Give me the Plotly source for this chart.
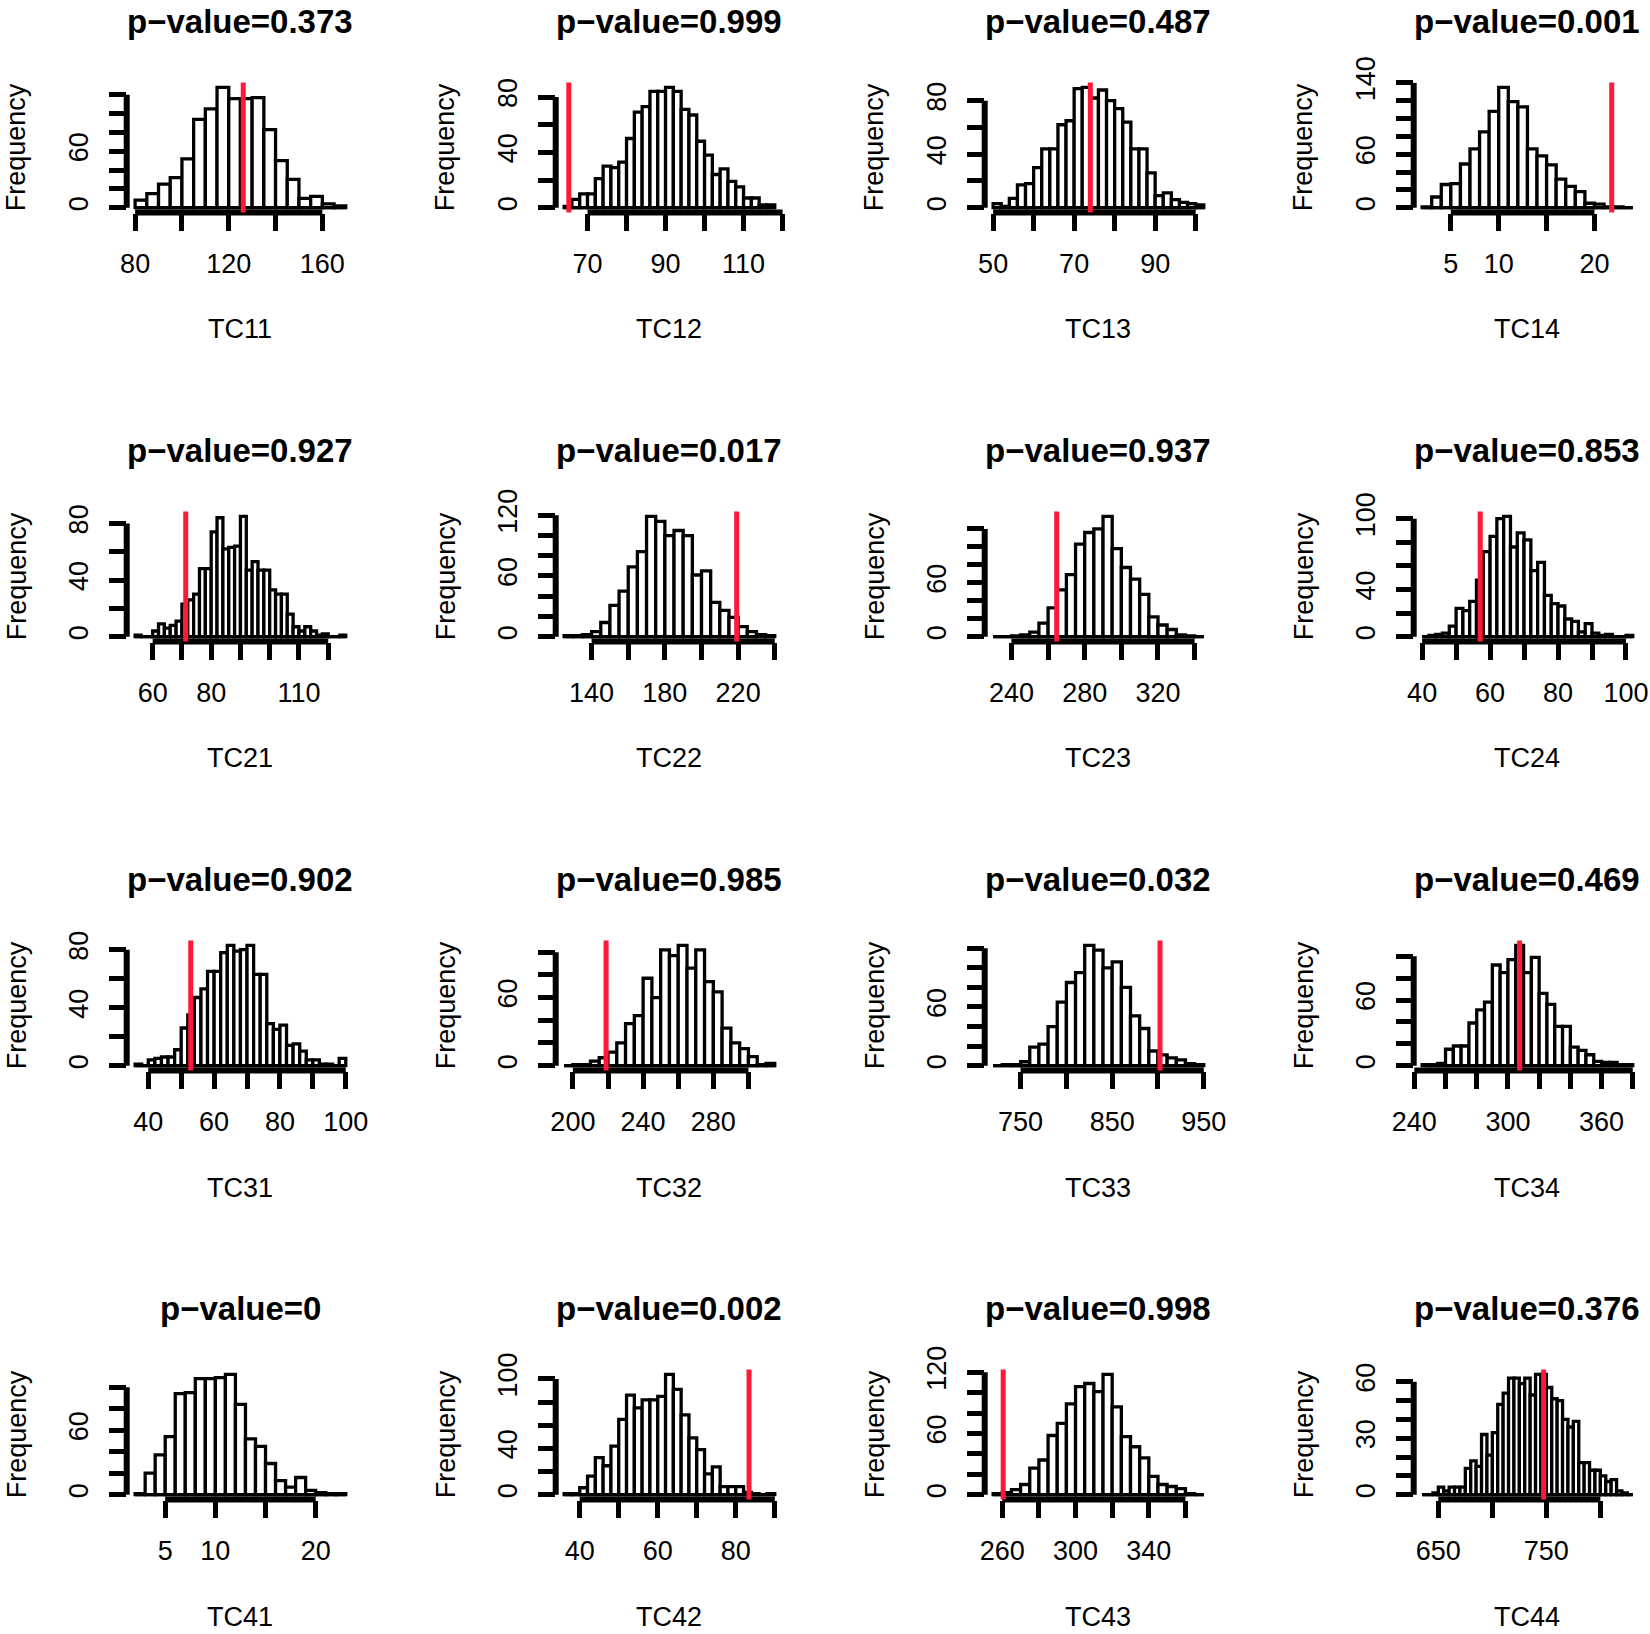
import plotly.graph_objects as go

# ---------------- data ----------------
names = ["TC11", "TC12", "TC13", "TC14",
         "TC21", "TC22", "TC23", "TC24",
         "TC31", "TC32", "TC33", "TC34",
         "TC41", "TC42", "TC43", "TC44"]
p_values = ["0.373", "0.999", "0.487", "0.001",
            "0.927", "0.017", "0.937", "0.853",
            "0.902", "0.985", "0.032", "0.469",
            "0", "0.002", "0.998", "0.376"]
observed = [126.2, 65.2, 74.0, 21.8,
            71.3, 219.2, 264.7, 57.1,
            52.9, 218.9, 902.2, 307.5,
            None, 83.4, 260.5, 747.5]
break_start = [80, 64, 50, 2, 54, 125, 230, 40, 36, 195, 720, 245, 2, 36, 255, 635]
bin_width = [5, 2, 2, 1, 2, 5, 5, 2, 2, 5, 10, 5, 1, 2, 5, 5]

counts_tc11 = [8, 15, 25, 32, 52, 94, 105, 128, 116, 116, 117, 83, 50, 30, 10, 12, 4, 2]
counts_tc12 = [1, 6, 10, 10, 21, 30, 29, 33, 50, 69, 73, 84, 84, 87, 84, 71, 67, 48, 38, 24, 28, 19, 15, 7, 7, 2, 2]
counts_tc13 = [3, 1, 7, 17, 18, 30, 44, 44, 62, 65, 89, 90, 82, 88, 80, 74, 64, 44, 44, 26, 9, 11, 6, 4, 3, 2]
counts_tc14 = [1, 12, 26, 27, 49, 66, 85, 108, 135, 119, 113, 66, 58, 48, 32, 24, 18, 5, 4, 1, 1, 0]
counts_tc21 = [1, 0, 0, 4, 9, 6, 8, 11, 23, 26, 30, 48, 48, 74, 84, 62, 63, 64, 85, 47, 53, 47, 47,
               33, 30, 30, 16, 7, 4, 7, 4, 1, 2, 0, 0, 1]
counts_tc22 = [1, 1, 2, 5, 14, 31, 45, 69, 84, 119, 114, 100, 105, 100, 61, 65, 34, 26, 19, 10, 5, 2, 1]
counts_tc23 = [0, 0, 1, 2, 5, 15, 32, 52, 69, 103, 116, 120, 134, 98, 77, 64, 47, 22, 13, 8, 2, 1, 0]
counts_tc24 = [0, 1, 2, 3, 9, 24, 22, 30, 48, 72, 85, 100, 102, 76, 88, 82, 56, 63, 35, 28, 26, 15,
               13, 4, 11, 3, 1, 2, 0, 0, 1]
counts_tc31 = [1, 0, 4, 5, 6, 6, 11, 26, 35, 47, 53, 65, 65, 78, 83, 79, 80, 83, 63, 63, 29, 25, 28,
               14, 15, 10, 4, 4, 1, 1, 0, 5]
counts_tc32 = [0, 1, 1, 4, 7, 12, 20, 37, 44, 77, 60, 102, 97, 106, 86, 102, 74, 65, 33, 20, 15, 8, 1, 2]
counts_tc33 = [0, 1, 1, 4, 19, 22, 40, 65, 85, 95, 123, 118, 100, 106, 80, 51, 38, 15, 11, 8, 6, 2, 1]
counts_tc34 = [1, 1, 2, 15, 18, 18, 39, 51, 58, 92, 85, 97, 110, 85, 99, 66, 56, 36, 36, 17, 14, 10,
               4, 3, 3, 1, 1]
counts_tc41 = [1, 20, 37, 54, 94, 95, 108, 108, 109, 112, 84, 52, 45, 29, 13, 7, 16, 4, 2, 1, 1]
counts_tc42 = [1, 1, 6, 16, 32, 25, 42, 65, 86, 75, 82, 82, 85, 104, 91, 69, 49, 39, 18, 24, 7, 7, 7,
               2, 1, 0, 1]
counts_tc43 = [1, 2, 5, 10, 26, 34, 58, 70, 89, 106, 109, 101, 118, 86, 57, 47, 36, 18, 10, 8, 6, 1, 0]
counts_tc44 = [0, 0, 1, 4, 2, 4, 4, 4, 14, 18, 15, 32, 21, 33, 48, 54, 62, 62, 59, 62, 53, 64, 64,
               57, 51, 50, 40, 36, 39, 17, 17, 13, 13, 10, 7, 8, 2, 1, 0]

all_counts = [counts_tc11, counts_tc12, counts_tc13, counts_tc14,
              counts_tc21, counts_tc22, counts_tc23, counts_tc24,
              counts_tc31, counts_tc32, counts_tc33, counts_tc34,
              counts_tc41, counts_tc42, counts_tc43, counts_tc44]

x_ticks = [[80, 100, 120, 140, 160], [70, 80, 90, 100, 110, 120], [50, 60, 70, 80, 90, 100], [5, 10, 15, 20],
           [60, 70, 80, 90, 100, 110, 120], [140, 160, 180, 200, 220, 240], [240, 260, 280, 300, 320, 340],
           [40, 50, 60, 70, 80, 90, 100],
           [40, 50, 60, 70, 80, 90, 100], [200, 220, 240, 260, 280, 300], [750, 800, 850, 900, 950],
           [240, 260, 280, 300, 320, 340, 360, 380],
           [5, 10, 15, 20], [40, 50, 60, 70, 80, 90], [260, 280, 300, 320, 340, 360], [650, 700, 750, 800]]
x_labels = [[80, 120, 160], [70, 90, 110], [50, 70, 90], [5, 10, 20],
            [60, 80, 110], [140, 180, 220], [240, 280, 320], [40, 60, 80, 100],
            [40, 60, 80, 100], [200, 240, 280], [750, 850, 950], [240, 300, 360],
            [5, 10, 20], [40, 60, 80], [260, 300, 340], [650, 750]]
y_ticks = [[0, 20, 40, 60, 80, 100, 120], [0, 20, 40, 60, 80], [0, 20, 40, 60, 80],
           [0, 20, 40, 60, 80, 100, 120, 140],
           [0, 20, 40, 60, 80], [0, 20, 40, 60, 80, 100, 120], [0, 20, 40, 60, 80, 100, 120],
           [0, 20, 40, 60, 80, 100],
           [0, 20, 40, 60, 80], [0, 20, 40, 60, 80, 100], [0, 20, 40, 60, 80, 100, 120],
           [0, 20, 40, 60, 80, 100],
           [0, 20, 40, 60, 80, 100], [0, 20, 40, 60, 80, 100], [0, 20, 40, 60, 80, 100, 120],
           [0, 10, 20, 30, 40, 50, 60]]
y_labels = [[0, 60], [0, 40, 80], [0, 40, 80], [0, 60, 140],
            [0, 40, 80], [0, 60, 120], [0, 60], [0, 40, 100],
            [0, 40, 80], [0, 60], [0, 60], [0, 60],
            [0, 60], [0, 40, 100], [0, 60, 120], [0, 30, 60]]

# ---------------- layout constants ----------------
W, H = 1650, 1634
PITCH = 429
PL0, PT0 = 126.7, 82.5
PW, PH = 227.5, 130
FONT = "Liberation Sans, Arial, Helvetica, sans-serif"
RED = "#FF1838"

fig = go.Figure()
shapes = []
annotations = []
layout_axes = {}

for i, name in enumerate(names):
    r, c = divmod(i, 4)
    counts = all_counts[i]
    b0, bw = break_start[i], bin_width[i]
    n = len(counts)
    bn = b0 + bw * n
    centers = [b0 + bw * (k + 0.5) for k in range(n)]
    M = max(counts)
    R = bn - b0
    xr = [b0 - 0.04 * R, bn + 0.04 * R]
    yr = [-0.04 * M, 1.04 * M]

    left = PL0 + PITCH * c
    top = PT0 + PITCH * r
    xd = [left / W, (left + PW) / W]
    yd = [1 - (top + PH) / H, 1 - top / H]

    sfx = "" if i == 0 else str(i + 1)
    xa, ya = "x" + sfx, "y" + sfx

    fig.add_trace(go.Bar(
        x=centers, y=counts, width=bw,
        marker=dict(color="white", line=dict(color="black", width=3.3)),
        xaxis=xa, yaxis=ya, showlegend=False, hoverinfo="skip"))

    xt = [str(v) if v in x_labels[i] else "" for v in x_ticks[i]]
    yt = [str(v) if v in y_labels[i] else "" for v in y_ticks[i]]

    common = dict(showgrid=False, zeroline=False, showline=False, automargin=False,
                  ticks="outside", ticklen=17, tickwidth=5, tickcolor="black",
                  tickfont=dict(family=FONT, size=27, color="black"),
                  tickmode="array", fixedrange=True)
    layout_axes["xaxis" + sfx] = dict(common, domain=xd, range=xr, anchor=ya,
                                      tickvals=x_ticks[i], ticktext=xt, tickangle=0,
                                      ticklabelstandoff=10)
    layout_axes["yaxis" + sfx] = dict(common, domain=yd, range=yr, anchor=xa,
                                      tickvals=y_ticks[i], ticktext=yt, tickangle=-90,
                                      ticklabelstandoff=10)

    # R-style axis lines spanning first..last tick
    shapes.append(dict(type="line", xref=xa, yref=ya + " domain",
                       x0=x_ticks[i][0], x1=x_ticks[i][-1], y0=0, y1=0,
                       line=dict(color="black", width=6)))
    shapes.append(dict(type="line", xref=xa + " domain", yref=ya,
                       x0=0, x1=0, y0=y_ticks[i][0], y1=y_ticks[i][-1],
                       line=dict(color="black", width=6)))
    # baseline of the histogram bars
    shapes.append(dict(type="line", xref=xa, yref=ya, x0=b0, x1=bn, y0=0, y1=0,
                       line=dict(color="black", width=3.3)))
    # observed statistic
    if observed[i] is not None:
        shapes.append(dict(type="line", xref=xa, yref=ya + " domain",
                           x0=observed[i], x1=observed[i], y0=0, y1=1,
                           line=dict(color=RED, width=5)))

    cx = (left + PW / 2) / W
    annotations.append(dict(text="<b>p\u2212value=" + p_values[i] + "</b>",
                            x=cx, y=1 - (top - 61) / H, xref="paper", yref="paper",
                            xanchor="center", yanchor="middle", showarrow=False,
                            font=dict(family=FONT, size=33, color="black")))
    annotations.append(dict(text=name, x=cx, y=1 - (top + PH + 117) / H,
                            xref="paper", yref="paper", xanchor="center", yanchor="middle",
                            showarrow=False, font=dict(family=FONT, size=27, color="black")))
    annotations.append(dict(text="Frequency", x=(left - 110) / W, y=1 - (top + PH / 2) / H,
                            xref="paper", yref="paper", xanchor="center", yanchor="middle",
                            textangle=-90, showarrow=False,
                            font=dict(family=FONT, size=27, color="black")))

fig.update_layout(
    width=W, height=H, margin=dict(l=0, r=0, t=0, b=0, autoexpand=False),
    paper_bgcolor="white", plot_bgcolor="white",
    shapes=shapes, annotations=annotations, showlegend=False,
    **layout_axes)

fig.write_html("out.html", config={"displayModeBar": False},
               post_script="document.body.style.margin='0px';")
